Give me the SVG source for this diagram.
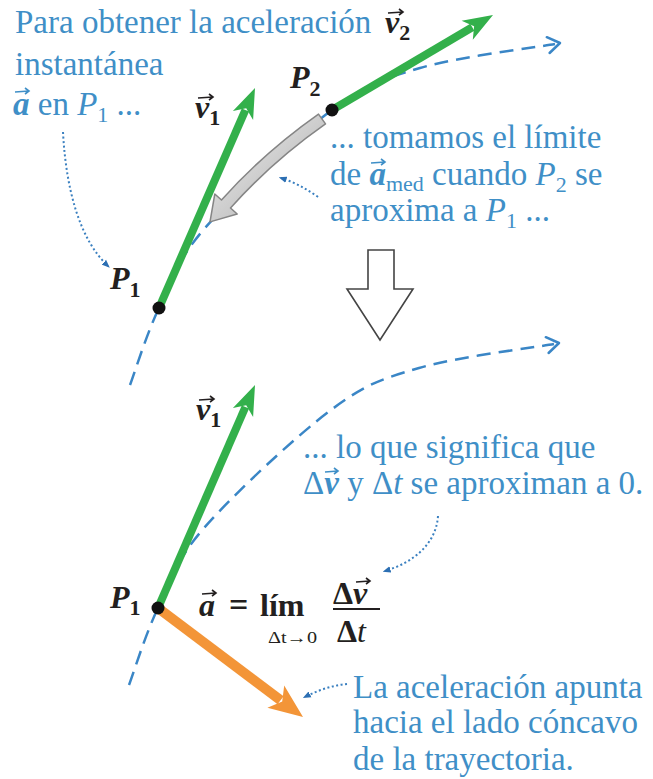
<svg xmlns="http://www.w3.org/2000/svg" width="653" height="779" viewBox="0 0 653 779">
<defs>
<style>
text{font-family:'Liberation Serif','DejaVu Serif','Noto Serif',serif}
.bt{font-size:33px;fill:#3f8fc7}
.lb{font-size:32px;fill:#231f20}
.sm{font-size:16px;fill:#231f20}
.bi{font-weight:bold;font-style:italic}
.it{font-style:italic}
.traj{fill:none;stroke:#3a86c6;stroke-width:2.5;stroke-dasharray:14 8}
.chev{fill:none;stroke:#3a86c6;stroke-width:2.5;stroke-linecap:round;stroke-linejoin:round}
.dot{fill:none;stroke:#3b80c0;stroke-width:2;stroke-dasharray:2 2.5;marker-end:url(#dh)}
.vecb{fill:none;stroke:#3f8fc7;stroke-width:1.6}
.veck{fill:none;stroke:#231f20;stroke-width:1.6}
.gs{stroke:#33b04b;stroke-width:8;fill:none}
.gh{fill:#33b04b}
.os{stroke:#f39538;stroke-width:10;fill:none}
.oh{fill:#f39538}
.pt{fill:#111}
</style>
<marker id="dh" viewBox="0 0 10 10" refX="7" refY="5" markerWidth="8" markerHeight="8" markerUnits="userSpaceOnUse" orient="auto"><path d="M0,1 L10,5 L0,9 Z" fill="#2c6fb3"/></marker>
<linearGradient id="gg" x1="0" y1="0" x2="1" y2="1"><stop offset="0" stop-color="#f2f2f2"/><stop offset="1" stop-color="#a9a9a9"/></linearGradient>
</defs>

<g id="trajectories">
<path id="traj-top" class="traj" d="M130,385 C134.8,372.2 146.5,334.2 159,308 C171.5,281.8 176.2,261 205,228 C233.8,195 296.2,136.7 332,110 C367.8,83.3 382.8,79 420,68 C457.2,57 532.5,48 555,44"/>
<path class="chev" d="M546.8,37.2 L560,43 L549.6,53"/>
<g transform="translate(-1,300)">
<path id="traj-bottom" class="traj" d="M130,385 C134.8,372.2 146.5,334.2 159,308 C171.5,281.8 176.2,261 205,228 C233.8,195 296.2,136.7 332,110 C367.8,83.3 382.8,79 420,68 C457.2,57 532.5,48 555,44"/>
<path class="chev" d="M546.8,37.2 L560,43 L549.6,53"/>
</g>
</g>

<g id="limit-arrow">
<path d="M318.5,114.1 Q264,152.5 221.5,200 L214.8,194 L210,221.9 L237.2,214 L230.5,208 Q272,161.5 325.5,123.9 Z" fill="url(#gg)" stroke="#858585" stroke-width="1.5" stroke-linejoin="round"/>
</g>

<g id="down-arrow">
<path d="M368,250 L394,250 L394,289 L413,289 L380,340 L347,289 L368,289 Z" fill="#fff" stroke="#444" stroke-width="1.6" stroke-linejoin="miter"/>
</g>

<g id="vectors">
<g id="v1-top"><line class="gs" x1="159" y1="308" x2="245.4" y2="110"/><polygon class="gh" points="255,88 253.1,119.9 246.2,108.2 232.9,111.1"/></g>
<g id="v2-top"><line class="gs" x1="332" y1="110" x2="472.3" y2="27.2"/><polygon class="gh" points="493,15 472.8,39.7 474.1,26.2 461.6,20.7"/></g>
<g id="v1-bottom"><line class="gs" x1="158" y1="608" x2="245.4" y2="407"/><polygon class="gh" points="255,385 253.1,416.9 246.2,405.2 232.9,408.1"/></g>
<g id="a-bottom"><line class="os" x1="158" y1="608" x2="280.6" y2="700.2"/><polygon class="oh" points="303,717 267.4,707.8 282.2,701.4 284.2,685.4"/></g>
</g>

<g id="points">
<circle id="P1-top" class="pt" cx="159" cy="308" r="6.5"/>
<circle id="P2-top" class="pt" cx="332" cy="110" r="6.5"/>
<circle id="P1-bottom" class="pt" cx="158" cy="608" r="6.5"/>
</g>

<g id="labels">
<g id="lbl-v1-top"><text class="lb" x="195" y="118"><tspan class="bi">v</tspan><tspan font-size="22" dy="7" font-weight="bold">1</tspan></text><path class="veck" d="M198,98 L213,97 M209,94 L213,97 L209,100"/></g>
<g id="lbl-v2"><text class="lb" x="385" y="33"><tspan class="bi">v</tspan><tspan font-size="22" dy="7" font-weight="bold">2</tspan></text><path class="veck" d="M388,13 L403,12 M399,9 L403,12 L399,15"/></g>
<g id="lbl-P2"><text class="lb" x="290" y="88"><tspan class="bi">P</tspan><tspan font-size="22" dy="8" font-weight="bold">2</tspan></text></g>
<g id="lbl-P1-top"><text class="lb" x="110" y="289"><tspan class="bi">P</tspan><tspan font-size="22" dy="8" font-weight="bold">1</tspan></text></g>
<g id="lbl-v1-bottom"><text class="lb" x="196" y="420"><tspan class="bi">v</tspan><tspan font-size="22" dy="7" font-weight="bold">1</tspan></text><path class="veck" d="M199,400 L214,399 M210,396 L214,399 L210,402"/></g>
<g id="lbl-P1-bottom"><text class="lb" x="110" y="608"><tspan class="bi">P</tspan><tspan font-size="22" dy="7" font-weight="bold">1</tspan></text></g>
</g>

<g id="formula">
<text class="lb bi" x="199" y="616">a</text>
<path class="veck" d="M202,594 L216,593 M212,590 L216,593 L212,596"/>
<text class="lb" x="229" y="616" style="font-size:34px;font-weight:bold">=</text>
<text class="lb" x="260" y="616" font-weight="bold">lím</text>
<text class="sm" x="268" y="643" textLength="49" lengthAdjust="spacingAndGlyphs">Δt→0</text>
<text class="lb" x="333" y="604"><tspan font-weight="bold">Δ</tspan><tspan class="bi">v</tspan></text>
<path class="veck" d="M356,582 L370,581 M366,578 L370,581 L366,584"/>
<line x1="333" y1="609" x2="380" y2="609" stroke="#231f20" stroke-width="2"/>
<text class="lb" x="337" y="642"><tspan font-weight="bold">Δ</tspan><tspan class="it">t</tspan></text>
</g>

<g id="note-1">
<text class="bt" x="15" y="33">Para obtener la aceleración</text>
<text class="bt" x="15" y="75">instantánea</text>
<text class="bt" x="13" y="115"><tspan class="bi">a</tspan> en <tspan class="it">P</tspan><tspan font-size="22" dy="7">1</tspan><tspan dy="-7"> ...</tspan></text>
<path class="vecb" d="M15,92 L29,91 M25,88 L29,91 L25,94"/>
</g>

<g id="note-2">
<text class="bt" x="330" y="148">... tomamos el límite</text>
<text class="bt" x="330" y="185">de <tspan class="bi">a</tspan><tspan font-size="22" dy="6">med</tspan><tspan dy="-6"> cuando </tspan><tspan class="it">P</tspan><tspan font-size="22" dy="7">2</tspan><tspan dy="-7"> se</tspan></text>
<path class="vecb" d="M371,163 L385,162 M381,159 L385,162 L381,165"/>
<text class="bt" x="330" y="221">aproxima a <tspan class="it">P</tspan><tspan font-size="22" dy="7">1</tspan><tspan dy="-7"> ...</tspan></text>
</g>

<g id="note-3">
<text class="bt" x="303" y="458">... lo que significa que</text>
<text class="bt" x="303" y="494">Δ<tspan class="bi">v</tspan> y Δ<tspan class="it">t</tspan> se aproximan a 0.</text>
<path class="vecb" d="M325,472 L338,471 M334,468 L338,471 L334,474"/>
</g>

<g id="note-4">
<text class="bt" x="353" y="698">La aceleración apunta</text>
<text class="bt" x="353" y="733">hacia el lado cóncavo</text>
<text class="bt" x="353" y="770">de la trayectoria.</text>
</g>

<g id="connectors">
<path class="dot" d="M63,132 C66,190 80,240 108,266"/>
<path class="dot" d="M318,197 Q300,184 281,178"/>
<path class="dot" d="M438,516 C436,545 412,563 385,571"/>
<path class="dot" d="M347,684 Q326,686 305,697"/>
</g>
</svg>
